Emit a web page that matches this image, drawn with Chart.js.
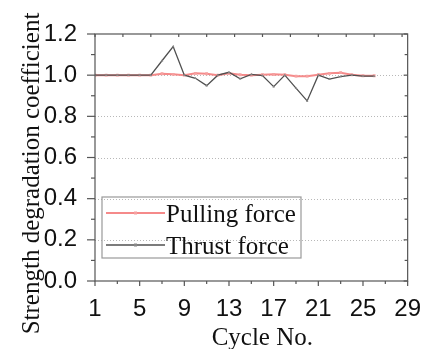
<!DOCTYPE html>
<html>
<head>
<meta charset="utf-8">
<script src="https://cdn.jsdelivr.net/npm/chart.js@4/dist/chart.umd.min.js"></script>
<style>
  html, body { margin: 0; padding: 0; background: #fff; }
  canvas { display: block; }
</style>
</head>
<body>
<canvas id="chart" width="427" height="349"></canvas>
<script>
// cycle numbers and strength degradation coefficients
const cycles = [1, 2, 3, 4, 5, 6, 7, 8, 9, 10, 11, 12, 13, 14, 15, 16, 17, 18, 19, 20, 21, 22, 23, 24, 25, 26];
const pulling = [1.0, 1.0, 1.0, 1.0, 1.0, 1.0, 1.007, 1.004, 1.0, 1.009, 1.007, 1.0, 1.009, 1.002, 1.0, 1.002, 1.004, 1.002, 0.995, 0.995, 1.002, 1.009, 1.012, 1.002, 0.997, 0.997];
const thrust = [1.0, 1.0, 1.0, 1.0, 1.0, 1.0, 1.07, 1.139, 1.0, 0.985, 0.949, 1.0, 1.014, 0.982, 1.004, 0.998, 0.944, 1.0, 0.937, 0.875, 1.0, 0.981, 0.993, 1.0, 0.995, 0.995];
const xTicks = [1, 5, 9, 13, 17, 21, 25, 29];
const yTicks = [0.0, 0.2, 0.4, 0.6, 0.8, 1.0, 1.2];

const serif = '"Liberation Serif", "Times New Roman", serif';
const sans = '"Liberation Sans", Arial, sans-serif';

const toPoints = vals => cycles.map((c, i) => ({ x: c, y: vals[i] }));

function line(ctx, x1, y1, x2, y2) {
  ctx.beginPath();
  ctx.moveTo(x1, y1);
  ctx.lineTo(x2, y2);
  ctx.stroke();
}

// dotted horizontal grid under the lines
const gridLines = {
  id: 'gridLines',
  beforeDatasetsDraw(chart) {
    const { ctx, chartArea: a, scales: { y } } = chart;
    ctx.save();
    ctx.strokeStyle = '#b8b8b8';
    ctx.lineWidth = 1;
    ctx.setLineDash([1, 2]);
    yTicks.slice(1, -1).forEach(v => {
      const py = Math.round(y.getPixelForValue(v)) + 0.5;
      line(ctx, a.left, py, a.right, py);
    });
    ctx.restore();
  }
};

// box frame with ticks, axis titles and the legend
const frame = {
  id: 'frame',
  afterDraw(chart) {
    const { ctx, chartArea: a, scales: { x, y } } = chart;
    ctx.save();
    ctx.strokeStyle = '#555';
    ctx.lineWidth = 1.2;
    ctx.strokeRect(a.left, a.top, a.width, a.height);

    // left ticks outward, right ticks inward
    for (let i = 0; i <= 12; i++) {
      const py = y.getPixelForValue(i / 10);
      const major = i % 2 === 0;
      line(ctx, a.left - (major ? 8 : 4), py, a.left, py);
      line(ctx, a.right, py, a.right - (major ? 4 : 3), py);
    }
    // bottom ticks outward
    for (let v = 1; v <= 29; v += 2) {
      const px = x.getPixelForValue(v);
      line(ctx, px, a.bottom, px, a.bottom + ((v - 1) % 4 === 0 ? 5 : 3));
    }
    // top ticks inward
    for (let v = 1; v <= 29; v += 2.5) {
      const px = x.getPixelForValue(v);
      line(ctx, px, a.top, px, a.top + 3);
    }

    // axis titles
    ctx.fillStyle = '#111';
    ctx.font = '25px ' + serif;
    ctx.textAlign = 'center';
    ctx.textBaseline = 'alphabetic';
    ctx.fillText('Cycle No.', (a.left + a.right) / 2 + 11, 345);
    ctx.save();
    ctx.translate(39, (a.top + a.bottom) / 2 + 16);
    ctx.rotate(-Math.PI / 2);
    ctx.fillText('Strength degradation coefficient', 0, 0);
    ctx.restore();

    // legend box
    const lx = a.left + 7, ly = a.top + 163;
    ctx.strokeStyle = '#999';
    ctx.lineWidth = 1.2;
    ctx.strokeRect(lx, ly, 199, 61);
    ctx.textAlign = 'left';
    chart.data.datasets.forEach((ds, i) => {
      const ry = ly + 16 + i * 32;
      ctx.strokeStyle = ds.borderColor;
      ctx.lineWidth = ds.borderWidth;
      line(ctx, lx + 4, ry, lx + 63, ry);
      ctx.fillStyle = ds.pointBackgroundColor;
      ctx.fillRect(lx + 32, ry - 1.5, 3, 3);
      ctx.fillStyle = '#111';
      ctx.fillText(ds.label, lx + 64, ry + 9);
    });
    ctx.restore();
  }
};

new Chart(document.getElementById('chart'), {
  type: 'line',
  data: {
    datasets: [
      {
        label: 'Pulling force',
        data: toPoints(pulling),
        borderColor: '#f58a8a',
        borderWidth: 2,
        pointStyle: 'rect',
        pointRadius: 2,
        pointBorderWidth: 0,
        pointBackgroundColor: '#f6a0a0',
        order: 1
      },
      {
        label: 'Thrust force',
        data: toPoints(thrust),
        borderColor: '#505050',
        borderWidth: 1.3,
        pointStyle: 'triangle',
        pointRadius: 1.5,
        pointBorderWidth: 0,
        pointBackgroundColor: '#888',
        order: 0
      }
    ]
  },
  options: {
    responsive: false,
    animation: false,
    devicePixelRatio: 1,
    layout: { padding: { left: 0, right: 14, top: 34, bottom: 0 } },
    plugins: { legend: { display: false }, tooltip: { enabled: false } },
    scales: {
      x: {
        type: 'linear',
        min: 1,
        max: 29,
        afterBuildTicks: s => { s.ticks = xTicks.map(v => ({ value: v })); },
        ticks: { color: '#111', font: { family: sans, size: 24 }, padding: 6, maxRotation: 0 },
        grid: { display: false },
        border: { display: false },
        afterFit: s => { s.height = 68; }
      },
      y: {
        min: 0,
        max: 1.2,
        afterBuildTicks: s => { s.ticks = yTicks.map(v => ({ value: v })); },
        ticks: { color: '#111', font: { family: sans, size: 24 }, padding: 10, callback: v => v.toFixed(1) },
        grid: { display: false },
        border: { display: false },
        afterFit: s => { s.width = 95; }
      }
    }
  },
  plugins: [gridLines, frame]
});
</script>
</body>
</html>
